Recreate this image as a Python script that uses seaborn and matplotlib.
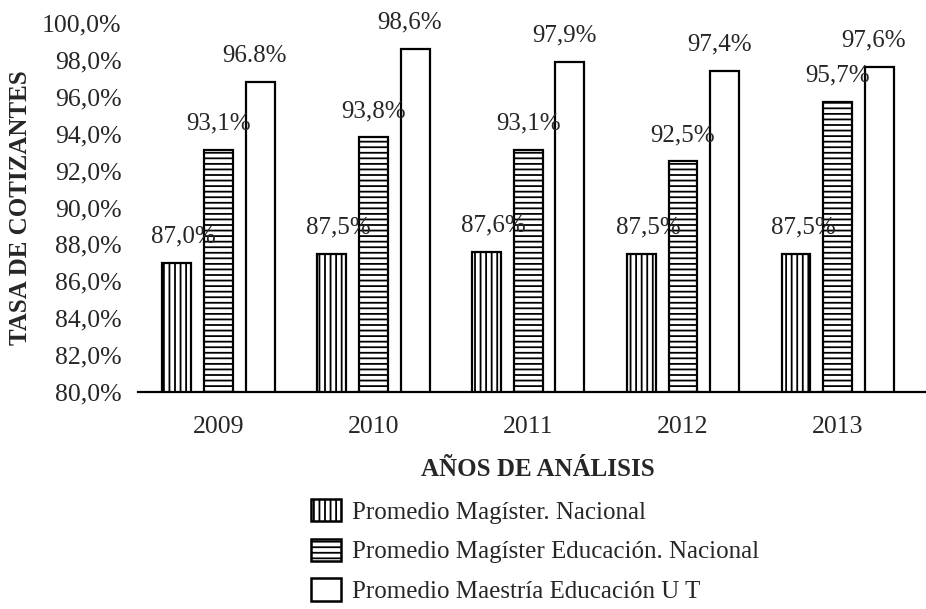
import matplotlib
matplotlib.use("Agg")
import matplotlib.pyplot as plt
import matplotlib.patches as mpatches
import seaborn as sns
import pandas as pd

years = ["2009", "2010", "2011", "2012", "2013"]
series = ["Promedio Magíster. Nacional",
          "Promedio Magíster Educación. Nacional",
          "Promedio Maestría Educación U T"]
magister_nacional = [87.0, 87.5, 87.6, 87.5, 87.5]
magister_educacion = [93.1, 93.8, 93.1, 92.5, 95.7]
maestria_ut = [96.8, 98.6, 97.9, 97.4, 97.6]
value_labels = [
    ["87,0%", "87,5%", "87,6%", "87,5%", "87,5%"],
    ["93,1%", "93,8%", "93,1%", "92,5%", "95,7%"],
    ["96.8%", "98,6%", "97,9%", "97,4%", "97,6%"],
]
y_ticks = [80, 82, 84, 86, 88, 90, 92, 94, 96, 98, 100]
hatches = ["|||", "---", ""]

df = pd.DataFrame({
    "year": years * 3,
    "serie": [s for s in series for _ in years],
    "valor": magister_nacional + magister_educacion + maestria_ut,
})

sns.set_style("white")
plt.rcParams["font.family"] = ["Liberation Serif", "DejaVu Serif"]
plt.rcParams["hatch.linewidth"] = 1.3

fig = plt.figure(figsize=(9.26, 6.09), dpi=100)
ax = fig.add_axes([0.149, 0.3563, 0.851, 0.606])

sns.barplot(data=df, x="year", y="valor", hue="serie", order=years,
            hue_order=series, palette=["white"] * 3, width=0.81, gap=0.31,
            edgecolor="black", linewidth=1.6, saturation=1, legend=False,
            ax=ax)

# hatch + value labels
dxs = [5, 0, -4]
for i, cont in enumerate(ax.containers):
    for bar, txt in zip(cont, value_labels[i]):
        bar.set_hatch(hatches[i])
        ax.annotate(txt, (bar.get_x() + bar.get_width() / 2, bar.get_height()),
                    xytext=(dxs[i], 19), textcoords="offset points",
                    ha="center", va="center", fontsize=18)

ax.set_ylim(80, 100)
ax.set_xlim(-0.52, 4.57)
ax.set_yticks(y_ticks)
ax.set_yticklabels([f"{v:.1f}%".replace(".", ",") for v in y_ticks])
ax.tick_params(axis="both", length=0, labelsize=18.5)
ax.tick_params(axis="y", pad=12)
ax.tick_params(axis="x", pad=17)
for side in ["left", "top", "right"]:
    ax.spines[side].set_visible(False)
ax.spines["bottom"].set_color("black")
ax.spines["bottom"].set_linewidth(1.6)

ax.set_xlabel("AÑOS DE ANÁLISIS", fontsize=18, fontweight="bold", labelpad=15)
ax.xaxis.label.set_x(0.508)
ax.set_ylabel("TASA DE COTIZANTES", fontsize=18, fontweight="bold", labelpad=7)

handles = [mpatches.Patch(facecolor="white", edgecolor="black", hatch=h,
                          linewidth=1.8, label=s) for h, s in zip(hatches, series)]
fig.legend(handles=handles, loc="upper left", bbox_to_anchor=(0.336, 0.181),
           frameon=False, fontsize=18, handlelength=1.2, handleheight=1.0,
           handletextpad=0.45, labelspacing=0.6, borderpad=0, borderaxespad=0)

fig.savefig("out.png", dpi=100, facecolor="white")
